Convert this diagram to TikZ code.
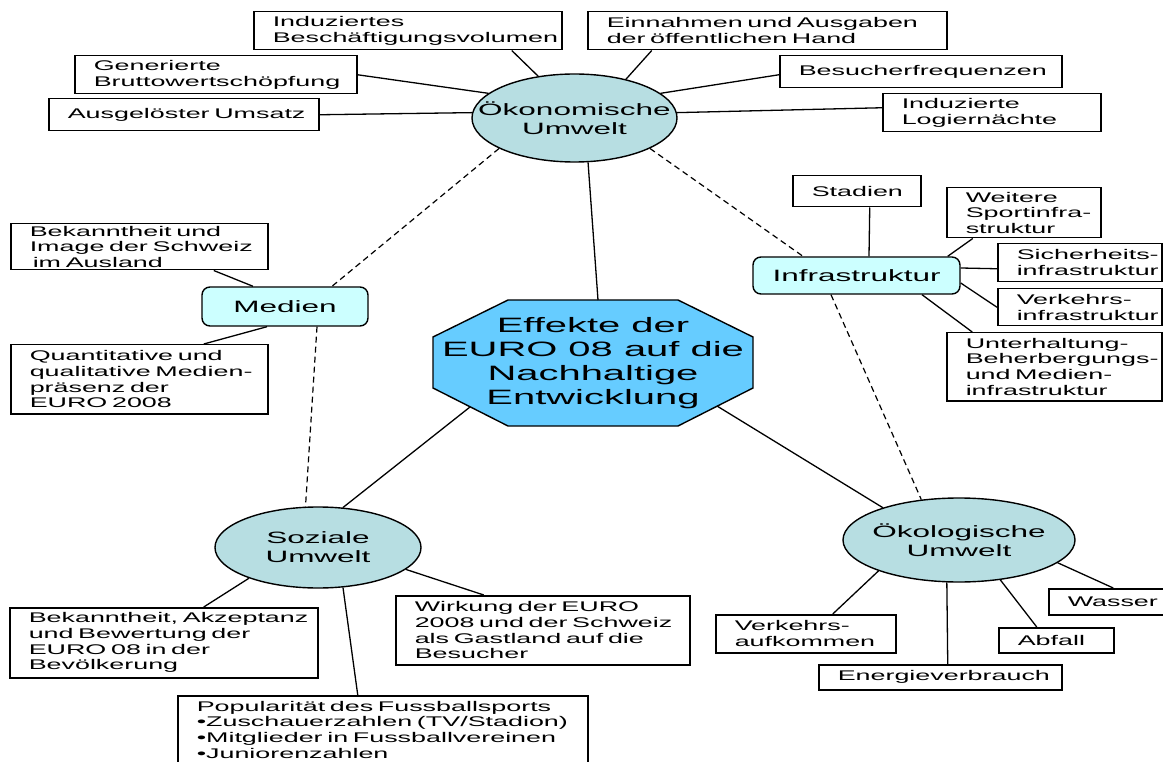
\documentclass[tikz,border=0pt]{standalone}
\usepackage{fontspec}
\setmainfont{Liberation Sans}[FakeStretch=1.92]
\usetikzlibrary{shapes.geometric}
\usetikzlibrary{backgrounds}
\newcommand{\smalltxt}{\fontsize{14pt}{15.7pt}\selectfont}
\newcommand{\midtxt}{\fontsize{16.4pt}{19pt}\selectfont}
\newcommand{\bigtxt}{\fontsize{20.8pt}{23.9pt}\selectfont}
\definecolor{mteal}{RGB}{183,222,226}
\definecolor{mcyan}{RGB}{204,255,255}
\definecolor{mskyblue}{RGB}{102,204,255}
\tikzset{box/.style = {draw, line width=1.5pt, anchor=north west, inner xsep=0pt, inner ysep=0pt,
                       align=left, font=\smalltxt,
                       execute at begin node={\leftskip=19pt\rightskip=0pt plus 1fil minus 25pt}}}
\tikzset{umwelt/.style = {draw, ellipse, fill=mteal, line width=1.4pt, inner sep=0pt}}
\tikzset{bereich/.style = {draw, rounded corners=8pt, fill=mcyan, line width=1.4pt, font=\midtxt,
                           inner sep=0pt}}
\tikzset{link/.style = {line width=1.3pt}}
\tikzset{dlink/.style = {line width=1.2pt, dash pattern=on 6pt off 4pt}}

\begin{document}
\begin{tikzpicture}[x=1pt, y=-1pt]
  \useasboundingbox (0,0) rectangle (1163,762);

  \node [minimum width=320pt, minimum height=126pt, inner sep=0pt, outer sep=0pt,
         align=center, font=\bigtxt] (euro) at (593,363)
        {Effekte der\\EURO 08 auf die\\Nachhaltige\\Entwicklung};
  \begin{scope}[on background layer]
    \draw [line width=1.4pt, fill=mskyblue] ([xshift=75pt]euro.north west) -- ([xshift=-75pt]euro.north east)
      -- ([yshift=-37pt]euro.north east) -- ([yshift=38pt]euro.south east)
      -- ([xshift=-75pt]euro.south east) -- ([xshift=75pt]euro.south west)
      -- ([yshift=38pt]euro.south west) -- ([yshift=-37pt]euro.north west) -- cycle;
  \end{scope}

  \node [umwelt, minimum width=205pt, minimum height=88pt,
         label={[name=oektxt, font=\midtxt, align=center]center:Ökonomische\\Umwelt}] (oek) at (574.5,118) {};
  \node [umwelt, minimum width=206pt, minimum height=81pt,
         label={[name=soztxt, font=\midtxt, align=center]center:Soziale\\Umwelt}] (soz) at (318,547.5) {};
  \node [umwelt, minimum width=232pt, minimum height=84pt,
         label={[name=oekoltxt, font=\midtxt, align=center]center:Ökologische\\Umwelt}] (oekol) at (959,540) {};

  \node [bereich, minimum width=166pt, minimum height=39pt] (med) at (285,306.5) {Medien};
  \node [bereich, minimum width=207pt, minimum height=37pt] (infra) at (856.5,275.5) {Infrastruktur};

  \node [box, text width=308pt, minimum height=38pt] (indbes) at (253,11) {Induziertes\\Beschäftigungsvolumen};
  \node [box, text width=359pt, minimum height=38pt] (einn) at (587,11) {Einnahmen und Ausgaben\\der öffentlichen Hand};
  \node [box, text width=282pt, minimum height=38pt] (gen) at (74,55) {Generierte\\Bruttowertschöpfung};
  \node [box, text width=270pt, minimum height=32pt] (aus) at (48,98) {Ausgelöster Umsatz};
  \node [box, text width=282pt, minimum height=32pt] (besu) at (779,55) {Besucherfrequenzen};
  \node [box, text width=218pt, minimum height=38pt] (logi) at (882,93) {Induzierte\\Logiernächte};

  \node [box, text width=257pt, minimum height=46pt] (bekimg) at (10,223) {Bekanntheit und\\Image der Schweiz\\\hspace*{3pt}im Ausland};
  \node [box, text width=257pt, minimum height=69pt] (quant) at (10,344) {Quantitative und\\qualitative Medien-\\präsenz der\\EURO 2008};

  \node [box, text width=128pt, minimum height=31pt] (stad) at (792,175) {Stadien};
  \node [box, text width=154pt, minimum height=50pt] (weit) at (946,187) {Weitere\\Sportinfra-\\struktur};
  \node [box, text width=164pt, minimum height=38pt] (sich) at (997,243) {Sicherheits-\\infrastruktur};
  \node [box, text width=164pt, minimum height=37pt] (verk) at (997,288) {Verkehrs-\\infrastruktur};
  \node [box, text width=215pt, minimum height=68pt] (unter) at (946,332) {Unterhaltung-\\Beherbergungs-\\und Medien-\\infrastruktur};

  \node [box, text width=308pt, minimum height=70pt] (bekakz) at (9,607) {Bekanntheit, Akzeptanz\\und Bewertung der\\EURO 08 in der\\Bevölkerung};
  \node [box, text width=294pt, minimum height=69pt] (wirk) at (395,595) {Wirkung der EURO\\2008 und der Schweiz\\als Gastland auf die\\Besucher};
  \node [box, text width=410pt, minimum height=68pt] (popu) at (177,695) {Popularität des Fussballsports\\•Zuschauerzahlen (TV/Stadion)\\•Mitglieder in Fussballvereinen\\•Juniorenzahlen};

  \node [box, text width=180pt, minimum height=38pt] (vaufk) at (715,614) {Verkehrs-\\aufkommen};
  \node [box, text width=243pt, minimum height=25pt] (energ) at (818,664) {Energieverbrauch};
  \node [box, text width=115pt, minimum height=25pt] (abf) at (998,627) {Abfall};
  \node [box, text width=115pt, minimum height=26pt] (wass) at (1048,588) {Wasser};

  \draw [link] (oek.131) -- ([xshift=104pt]indbes.south);
  \draw [link] (oek.37) -- ([xshift=-115.5pt]einn.south);
  \draw [link] (oek.164) -- (gen.east);
  \draw [link] (oek.177) -- (aus.east);
  \draw [link] (oek.16) -- ([yshift=-3pt]besu.west);
  \draw [link] (oek.3) -- ([yshift=5pt]logi.west);
  \draw [link] (oek.-73) -- ([xshift=5pt]euro.north);

  \draw [link] ([xshift=37pt, yshift=19pt]euro.south west) -- (soz.58);
  \draw [link] ([xshift=-36pt, yshift=20pt]euro.south east) -- (oekol.157);

  \draw [dlink] (oek.202) -- ([xshift=47pt]med.north);
  \draw [dlink] (oek.-22) -- ([xshift=-53.5pt]infra.north);
  \draw [dlink] ([xshift=32pt]med.south) -- (soz.107);
  \draw [dlink] ([xshift=-25.5pt]infra.south) -- (oekol.133);

  \draw [link] ([xshift=-32pt]med.north) -- ([xshift=74.5pt]bekimg.south);
  \draw [link] ([xshift=-18pt]med.south) -- ([xshift=64.5pt]quant.north);

  \draw [link] ([xshift=13pt]stad.south) -- ([xshift=12.5pt]infra.north);
  \draw [link] ([xshift=-13pt]infra.north east) -- ([xshift=-51pt]weit.south);
  \draw [link] ([yshift=7.5pt]infra.east) -- ([yshift=-6pt]sich.west);
  \draw [link] ([yshift=-7.5pt]infra.east) -- (verk.west);
  \draw [link] ([xshift=65.5pt]infra.south) -- ([xshift=-82pt]unter.north);

  \draw [link] (soz.204) -- ([xshift=40pt]bekakz.north);
  \draw [link] (soz.-14) -- ([xshift=-59pt]wirk.north);
  \draw [link] (soz.-58) -- ([xshift=-25pt]popu.north);

  \draw [link] (oekol.201) -- ([xshift=27pt]vaufk.north);
  \draw [link] (oekol.-106) -- ([xshift=7.5pt]energ.north);
  \draw [link] (oekol.-44) -- ([xshift=-19.5pt]abf.north);
  \draw [link] (oekol.-13) -- ([xshift=7pt]wass.north);
\end{tikzpicture}
\end{document}
